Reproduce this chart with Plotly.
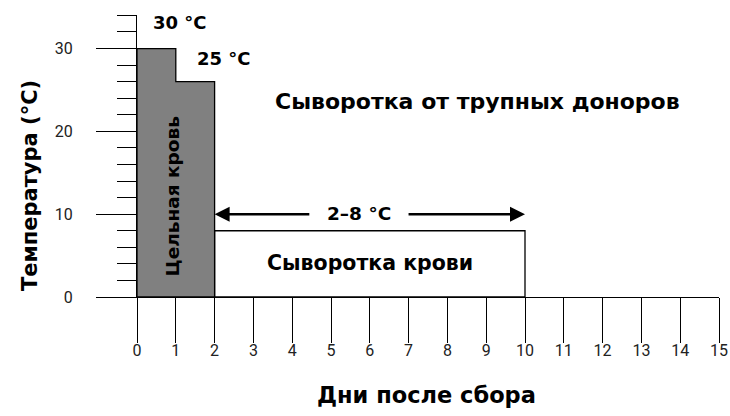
import plotly.graph_objects as go

# Data
blood_x = [0, 0, 1, 1, 2, 2, 0]
blood_y = [0, 30, 30, 26, 26, 0, 0]
serum_x = [2, 2, 10, 10, 2]
serum_y = [0, 8, 8, 0, 0]
x_ticks = list(range(0, 16))
y_major = [0, 10, 20, 30]
y_minor = list(range(0, 35, 2))
arrow_x = [2, 10]
arrow_y = 10
gap_x = [4.48, 6.96]

labels = [
    dict(text="30 °C", x=1.11, y=33.2, size=18, angle=0),
    dict(text="25 °C", x=2.24, y=28.8, size=18, angle=0),
    dict(text="Сыворотка от трупных доноров", x=8.78, y=23.6, size=22, angle=0),
    dict(text="Сыворотка крови", x=6.0, y=4.1, size=20.5, angle=0),
    dict(text="2–8 °C", x=5.72, y=10.1, size=18.5, angle=0),
    dict(text="Цельная кровь", x=0.92, y=12.1, size=18.5, angle=-90),
]

FONT = "Roboto"
BOLD = "DejaVu Sans"

fig = go.Figure()
fig.add_trace(go.Scatter(x=serum_x, y=serum_y, mode="lines", fill="toself",
                         fillcolor="white", line=dict(color="black", width=1.3),
                         hoverinfo="skip"))
fig.add_trace(go.Scatter(x=blood_x, y=blood_y, mode="lines", fill="toself",
                         fillcolor="#808080", line=dict(color="black", width=1.3),
                         hoverinfo="skip"))

for lab in labels:
    fig.add_annotation(x=lab["x"], y=lab["y"], xref="x", yref="y", text="<b>%s</b>" % lab["text"],
                       showarrow=False, textangle=lab["angle"],
                       font=dict(family=BOLD, size=lab["size"], color="black"))

# arrows
fig.add_annotation(x=arrow_x[0], y=arrow_y, ax=gap_x[0], ay=arrow_y, xref="x", yref="y",
                   axref="x", ayref="y", showarrow=True, arrowhead=2, arrowsize=1.2,
                   arrowwidth=2.5, arrowcolor="black", text="")
fig.add_annotation(x=arrow_x[1], y=arrow_y, ax=gap_x[1], ay=arrow_y, xref="x", yref="y",
                   axref="x", ayref="y", showarrow=True, arrowhead=2, arrowsize=1.2,
                   arrowwidth=2.5, arrowcolor="black", text="")

# axis titles (paper coords relative to plot area)
fig.add_annotation(x=0.498, y=-0.402, xref="paper", yref="paper", text="<b>Дни после сбора</b>",
                   showarrow=False, font=dict(family=BOLD, size=22.5, color="black"))
fig.add_annotation(x=-0.208, y=0.397, xref="paper", yref="paper", text="<b>Температура (°C)</b>",
                   textangle=-90, showarrow=False, font=dict(family=BOLD, size=21, color="black"))

fig.update_xaxes(range=[0, 15], tickvals=x_ticks, ticks="outside", ticklen=45,
                 tickwidth=1.3, tickcolor="black", showline=True, linecolor="black",
                 linewidth=1.3, showgrid=False, zeroline=False, automargin=False,
                 ticklabelstandoff=-6,
                 tickfont=dict(family=FONT, size=16, color="#222"))
fig.update_yaxes(range=[0, 34.05], tickvals=y_major, ticks="outside", ticklen=40,
                 tickwidth=1.3, tickcolor="black", showline=True, linecolor="black",
                 linewidth=1.3, showgrid=False, zeroline=False, automargin=False,
                 ticklabelstandoff=20,
                 minor=dict(tickvals=y_minor, ticks="outside", ticklen=19, tickwidth=1.3,
                            tickcolor="black", showgrid=False),
                 tickfont=dict(family=FONT, size=16, color="#222"))

fig.update_layout(width=730, height=416, margin=dict(l=137, r=11, t=15, b=119),
                  plot_bgcolor="white", paper_bgcolor="white", showlegend=False)

fig.write_html("out.html", config={"displayModeBar": False},
               post_script="document.body.style.margin='0';document.body.style.padding='0';")
